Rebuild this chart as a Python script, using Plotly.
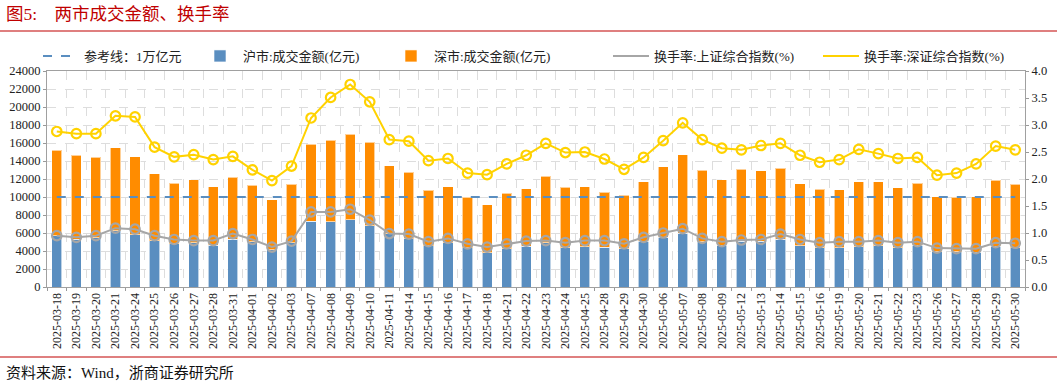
import plotly.graph_objects as go

dates = ["2025-03-18","2025-03-19","2025-03-20","2025-03-21","2025-03-24","2025-03-25","2025-03-26","2025-03-27","2025-03-28","2025-03-31",
         "2025-04-01","2025-04-02","2025-04-03","2025-04-07","2025-04-08","2025-04-09","2025-04-10","2025-04-11","2025-04-14","2025-04-15",
         "2025-04-16","2025-04-17","2025-04-18","2025-04-21","2025-04-22","2025-04-23","2025-04-24","2025-04-25","2025-04-28","2025-04-29",
         "2025-04-30","2025-05-06","2025-05-07","2025-05-08","2025-05-09","2025-05-12","2025-05-13","2025-05-14","2025-05-15","2025-05-16",
         "2025-05-19","2025-05-20","2025-05-21","2025-05-22","2025-05-23","2025-05-26","2025-05-27","2025-05-28","2025-05-29","2025-05-30"]

sh_amount = [5680,5300,5450,6270,5820,5120,4820,4930,4640,5300,
             5010,4150,4900,7310,7230,7490,6830,5930,5380,4600,
             4900,4380,3780,4270,4530,4900,4340,4450,4410,4270,
             5080,5530,5970,5010,4640,5080,5080,5300,4600,4340,
             4340,4450,4600,4340,4640,3930,3930,3860,4530,4380]

sz_amount = [9530,9350,8980,9230,8680,7450,6710,6980,6520,6900,
             6300,5560,6490,8560,9050,9500,9270,7530,7380,6160,
             6230,5600,5340,6120,6380,7410,6750,6710,6120,5930,
             6600,7820,8720,7970,7300,8010,7830,7870,6900,6530,
             6490,7230,7120,6680,6900,6120,6050,6190,7340,7010]

sh_turnover = [0.95,0.92,0.95,1.09,1.07,0.95,0.88,0.86,0.86,0.99,
               0.88,0.74,0.85,1.39,1.39,1.44,1.24,0.99,0.98,0.84,
               0.90,0.80,0.74,0.80,0.85,0.86,0.82,0.86,0.86,0.80,
               0.92,1.00,1.08,0.90,0.84,0.87,0.88,0.98,0.88,0.82,
               0.84,0.84,0.86,0.82,0.84,0.72,0.71,0.71,0.82,0.81]

sz_turnover = [2.88,2.84,2.84,3.17,3.15,2.59,2.41,2.45,2.36,2.42,
               2.17,1.97,2.24,3.13,3.51,3.75,3.43,2.73,2.70,2.34,
               2.38,2.11,2.08,2.28,2.44,2.66,2.49,2.50,2.37,2.18,
               2.40,2.71,3.04,2.73,2.57,2.54,2.62,2.66,2.44,2.31,
               2.36,2.55,2.47,2.38,2.40,2.07,2.11,2.28,2.61,2.54]

ref_level = [10000] * len(dates)

left_ticks = list(range(0, 24001, 2000))
left_labels = [str(v) for v in left_ticks]
right_ticks = [0.0, 0.5, 1.0, 1.5, 2.0, 2.5, 3.0, 3.5, 4.0]
right_labels = ["%.1f" % v for v in right_ticks]

names = ["参考线：1万亿元", "沪市:成交金额(亿元)", "深市:成交金额(亿元)",
         "换手率:上证综合指数(%)", "换手率:深证综合指数(%)"]

BLUE = "#5A8EC0"
ORANGE = "#FF8C00"
GRAY = "#A6A6A6"
YELLOW = "#FFD200"
RED = "#C00000"
FONT = "Liberation Serif, Noto Sans CJK SC, serif"

fig = go.Figure()
fig.add_trace(go.Scatter(x=dates, y=ref_level, name=names[0], mode="lines", legend="legend",
                         line=dict(color=BLUE, width=2, dash="dash")))
fig.add_trace(go.Bar(x=dates, y=sh_amount, name=names[1], legend="legend2",
                     marker=dict(color=BLUE, line=dict(color="rgba(255,255,255,0.6)", width=1)), width=0.52))
fig.add_trace(go.Bar(x=dates, y=sz_amount, name=names[2], legend="legend3",
                     marker=dict(color=ORANGE, line=dict(color="rgba(255,255,255,0.6)", width=1)), width=0.52))
fig.add_trace(go.Scatter(x=dates, y=sh_turnover, name=names[3], yaxis="y2", showlegend=False,
                         mode="lines+markers", line=dict(color=GRAY, width=2),
                         marker=dict(symbol="circle-open", size=9.5, color=GRAY, line=dict(width=2.2))))
fig.add_trace(go.Scatter(x=dates, y=sz_turnover, name=names[4], yaxis="y2", showlegend=False,
                         mode="lines+markers", line=dict(color=YELLOW, width=2),
                         marker=dict(symbol="circle-open", size=9.5, color=YELLOW, line=dict(width=2.2))))
# legend-only entries (line without marker, as in the reference legend)
fig.add_trace(go.Scatter(x=[dates[0]], y=[None], name=names[3], yaxis="y2", mode="lines", legend="legend4",
                         line=dict(color=GRAY, width=2)))
fig.add_trace(go.Scatter(x=[dates[0]], y=[None], name=names[4], yaxis="y2", mode="lines", legend="legend5",
                         line=dict(color=YELLOW, width=2)))

W, H = 1057, 387
L, R, T, B = 47, 32, 71, 100
pw, ph = W - L - R, H - T - B

def px_x(p):
    return (p - L) / pw

def px_y(p):
    return (H - B - p) / ph

def leg(px):
    return dict(orientation="h", x=px_x(px), xanchor="left", y=px_y(56), yanchor="middle",
                font=dict(size=13, family=FONT, color="#222222"), bgcolor="rgba(0,0,0,0)",
                itemwidth=36, itemclick=False, itemdoubleclick=False)

fig.update_layout(
    width=W, height=H,
    margin=dict(l=L, r=R, t=T, b=B, autoexpand=False),
    paper_bgcolor="white", plot_bgcolor="white",
    barmode="stack", bargap=0.48,
    font=dict(family=FONT, size=12, color="#222222"),
    showlegend=True, hovermode=False,
    legend=leg(38), legend2=leg(197), legend3=leg(388), legend4=leg(608), legend5=leg(818),
    xaxis=dict(type="category", range=[-0.5, len(dates) - 0.5], autorange=False,
               tickangle=-90, tickfont=dict(size=12, family=FONT),
               tickson="boundaries", ticks="outside", ticklen=3, tickcolor="#999999",
               showgrid=True, gridcolor="#DDDDDD", griddash="dash", gridwidth=1, automargin=False,
               showline=True, linecolor="#A0A0A0", linewidth=1.2, mirror=True),
    yaxis=dict(range=[0, 24000], tickvals=left_ticks, ticktext=left_labels, ticks="outside", ticklen=3,
               tickcolor="#999999", tickfont=dict(size=12.5, family=FONT), automargin=False,
               showgrid=True, gridcolor="#DDDDDD", griddash="dash", gridwidth=1,
               showline=True, linecolor="#A0A0A0", linewidth=1.2, zeroline=False),
    yaxis2=dict(range=[0, 4], tickvals=right_ticks, ticktext=right_labels, overlaying="y", side="right",
                ticks="outside", ticklen=3, tickcolor="#999999", tickfont=dict(size=12.5, family=FONT),
                automargin=False, showgrid=False, showline=True, linecolor="#A0A0A0", linewidth=1.2,
                zeroline=False),
)

fig.add_shape(type="line", xref="paper", yref="paper", x0=px_x(0), x1=px_x(W), y0=px_y(31), y1=px_y(31),
              line=dict(color=RED, width=1.2))
fig.add_shape(type="line", xref="paper", yref="paper", x0=px_x(0), x1=px_x(W), y0=px_y(357), y1=px_y(357),
              line=dict(color=RED, width=1.2))
fig.add_annotation(text="图5:    两市成交金额、换手率", xref="paper", yref="paper", x=px_x(4), y=px_y(14),
                   xanchor="left", yanchor="middle", showarrow=False,
                   font=dict(size=17.5, color=RED, family=FONT))
fig.add_annotation(text="资料来源：Wind，浙商证券研究所", xref="paper", yref="paper", x=px_x(4), y=px_y(373),
                   xanchor="left", yanchor="middle", showarrow=False,
                   font=dict(size=15, color="#111111", family=FONT))

fig.write_html("out.html", config={"displayModeBar": False},
               post_script="document.body.style.margin='0';document.body.style.overflow='hidden';")
